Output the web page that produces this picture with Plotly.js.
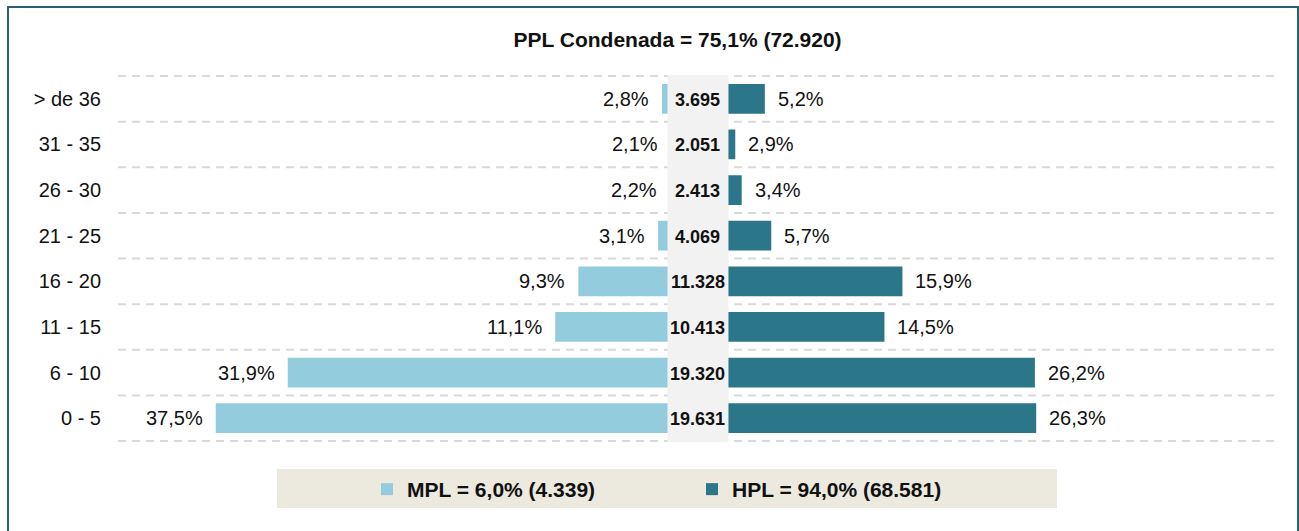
<!DOCTYPE html>
<html>
<head>
<meta charset="utf-8">
<script src="https://cdn.plot.ly/plotly-3.0.1.min.js"></script>
<style>
  html, body { margin: 0; padding: 0; background: #ffffff; }
  #wrap { position: relative; width: 1299px; height: 531px; overflow: hidden; }
  #chart { position: absolute; left: 0; top: 0; width: 1299px; height: 531px; }
  #frame { position: absolute; left: 7px; top: 6px; width: 1288px; height: 540px;
           border: 2px solid #2b5f6d; border-bottom: none; pointer-events: none; }
</style>
</head>
<body>
<div id="wrap">
  <div id="chart"></div>
  <div id="frame"></div>
</div>
<script>
// ---- data (bottom to top) ----
const categories = ['0 - 5', '6 - 10', '11 - 15', '16 - 20', '21 - 25', '26 - 30', '31 - 35', '> de 36'];
const mplPct = [37.5, 31.9, 11.1, 9.3, 3.1, 2.2, 2.1, 2.8];
const hplPct = [26.3, 26.2, 14.5, 15.9, 5.7, 3.4, 2.9, 5.2];
const totals = [19631, 19320, 10413, 11328, 4069, 2413, 2051, 3695];
const mplName = 'MPL = 6,0% (4.339)';
const hplName = 'HPL = 94,0% (68.581)';
const titleText = 'PPL Condenada = 75,1% (72.920)';

// ---- helpers ----
const fmtPct = v => v.toFixed(1).replace('.', ',') + '%';
const fmtInt = v => String(v).replace(/\B(?=(\d{3})+(?!\d))/g, '.');

const FONT = 'Liberation Sans, Arial, sans-serif';
const MPL_COLOR = '#93cddd';
const HPL_COLOR = '#2c7689';

const traces = [
  {
    type: 'bar', orientation: 'h', name: mplName,
    y: categories, x: mplPct.map(v => -v),
    marker: { color: MPL_COLOR },
    hoverinfo: 'skip'
  },
  {
    type: 'bar', orientation: 'h', name: hplName,
    y: categories, x: hplPct,
    marker: { color: HPL_COLOR },
    hoverinfo: 'skip'
  }
];

const annotations = [];
categories.forEach((c, i) => {
  annotations.push({
    x: -mplPct[i], y: c, xref: 'x', yref: 'y', text: fmtPct(mplPct[i]),
    showarrow: false, xanchor: 'right', yanchor: 'middle', xshift: -11,
    font: { family: FONT, size: 20, color: '#111111' }
  });
  annotations.push({
    x: hplPct[i], y: c, xref: 'x', yref: 'y', text: fmtPct(hplPct[i]),
    showarrow: false, xanchor: 'left', yanchor: 'middle', xshift: 11,
    font: { family: FONT, size: 20, color: '#111111' }
  });
  annotations.push({
    x: 0, y: c, xref: 'x', yref: 'y', text: '<b>' + fmtInt(totals[i]) + '</b>',
    showarrow: false, xanchor: 'center', yanchor: 'middle', yshift: -1,
    font: { family: FONT, size: 18, color: '#111111' }
  });
});

const shapes = [];
// dashed separators between rows
for (let i = 0; i <= categories.length; i++) {
  shapes.push({
    type: 'line', xref: 'paper', yref: 'y', x0: 0, x1: 1, y0: i - 0.5, y1: i - 0.5,
    line: { color: '#d9d9d9', width: 2, dash: '8px,6px' }, layer: 'below'
  });
}
// grey centre column
shapes.push({
  type: 'rect', xref: 'x', yref: 'paper', x0: -2.37, x1: 2.37, y0: 0, y1: 1,
  fillcolor: '#f2f2f2', line: { width: 0 }, layer: 'above'
});
// legend background band
shapes.push({
  type: 'rect', xref: 'paper', yref: 'paper', x0: 0.1374, x1: 0.8116, y0: -0.1798, y1: -0.0736,
  fillcolor: '#ece9df', line: { width: 0 }, layer: 'below'
});

const layout = {
  width: 1299, height: 531,
  margin: { l: 118, r: 24, t: 75, b: 89, pad: 0 },
  paper_bgcolor: '#ffffff', plot_bgcolor: 'rgba(0,0,0,0)',
  font: { family: FONT, size: 20, color: '#111111' },
  title: {
    text: '<b>' + titleText + '</b>',
    font: { family: FONT, size: 21, color: '#111111' },
    xref: 'paper', x: 0.4836, xanchor: 'center',
    yref: 'container', y: 0.9247, yanchor: 'middle'
  },
  barmode: 'overlay',
  bargap: 0.348,
  xaxis: {
    range: [-45.1, 44.87], showgrid: false, zeroline: false, showticklabels: false,
    showline: false, fixedrange: true
  },
  yaxis: {
    type: 'category', categoryorder: 'array', categoryarray: categories,
    showgrid: false, zeroline: false, showline: false,
    ticks: '', ticklabelstandoff: 16,
    tickfont: { family: FONT, size: 20, color: '#111111' }, fixedrange: true
  },
  showlegend: true,
  legend: {
    orientation: 'h', x: 0.2152, xanchor: 'left', y: -0.1294, yanchor: 'middle',
    bgcolor: 'rgba(0,0,0,0)', borderwidth: 0,
    entrywidth: 280, entrywidthmode: 'pixels',
    font: { family: FONT, size: 21, color: '#111111', weight: 'bold' },
    traceorder: 'normal'
  },
  shapes: shapes,
  annotations: annotations
};

Plotly.newPlot('chart', traces, layout, { displayModeBar: false, staticPlot: true });
</script>
</body>
</html>
